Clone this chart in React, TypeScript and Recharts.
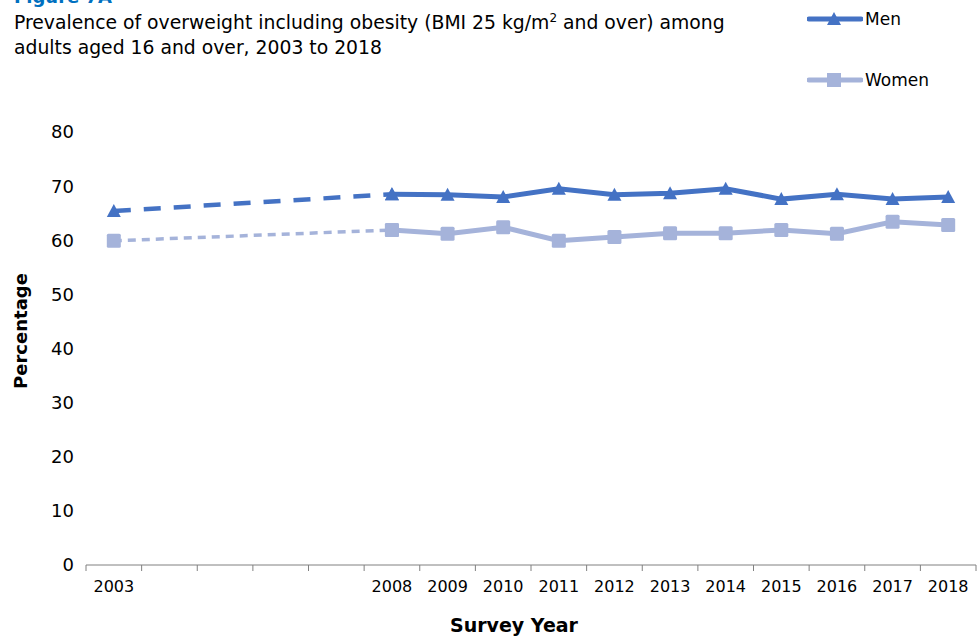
import { CartesianGrid, Line, LineChart, XAxis, YAxis } from "recharts"

const years = [
  "2003", "2004", "2005", "2006", "2007", "2008", "2009", "2010",
  "2011", "2012", "2013", "2014", "2015", "2016", "2017", "2018",
]
const shownYears = ["2003", "2008", "2009", "2010", "2011", "2012", "2013", "2014", "2015", "2016", "2017", "2018"]
const menValues = [65.4, null, null, null, null, 68.5, 68.4, 68.0, 69.5, 68.4, 68.7, 69.5, 67.6, 68.5, 67.6, 68.0]
const womenValues = [59.9, null, null, null, null, 61.9, 61.2, 62.4, 59.9, 60.6, 61.3, 61.3, 61.9, 61.2, 63.4, 62.8]
const yTicks = [0, 10, 20, 30, 40, 50, 60, 70, 80]

const GAP_END = 5 // first survey year after the gap

const data = years.map((year, i) => ({
  year,
  menEarly: i <= GAP_END ? menValues[i] : null,
  men: i >= GAP_END ? menValues[i] : null,
  womenEarly: i <= GAP_END ? womenValues[i] : null,
  women: i >= GAP_END ? womenValues[i] : null,
}))

const MEN = "#4472C4"
const WOMEN = "#A5B3DA"
const FONT = "Tahoma, 'DejaVu Sans', sans-serif"
const TICK_SIZE = 6
const TICK_MARGIN = 10

function Triangle(props: any) {
  const { cx, cy } = props
  if (cx == null || cy == null) return null
  return <polygon points={`${cx - 7},${cy + 6} ${cx + 7},${cy + 6} ${cx},${cy - 7}`} fill={MEN} />
}

function Square(props: any) {
  const { cx, cy } = props
  if (cx == null || cy == null) return null
  return <rect x={cx - 7} y={cy - 7} width={14} height={14} rx={1.5} fill={WOMEN} />
}

function YearTick(props: any) {
  const { x, y, payload, index } = props
  const half = 890 / years.length / 2
  const axisY = y - TICK_SIZE - TICK_MARGIN
  const label = shownYears.includes(payload.value) ? payload.value : ""
  return (
    <g>
      <line x1={x - half} x2={x - half} y1={axisY} y2={axisY + TICK_SIZE} stroke="#808080" />
      {index === years.length - 1 && (
        <line x1={x + half} x2={x + half} y1={axisY} y2={axisY + TICK_SIZE} stroke="#808080" />
      )}
      <text x={x} y={y} dy="0.71em" textAnchor="middle" fontSize={16} fill="#000">
        {label}
      </text>
    </g>
  )
}

function LegendItem({ top, label, color, marker }: { top: number; label: string; color: string; marker: "tri" | "sq" }) {
  return (
    <div style={{ position: "absolute", left: 807, top: top - 12, height: 24, display: "flex", alignItems: "center" }}>
      <svg width={56} height={24}>
        <line x1={2} x2={54} y1={12} y2={12} stroke={color} strokeWidth={5} strokeLinecap="round" />
        {marker === "tri" ? (
          <polygon points="20,18 34,18 27,5" fill={color} />
        ) : (
          <rect x={20} y={5} width={14} height={14} fill={color} />
        )}
      </svg>
      <span style={{ fontSize: 17, marginLeft: 2 }}>{label}</span>
    </div>
  )
}

export default function App() {
  return (
    <div style={{ position: "absolute", left: 0, top: 0, width: 979, height: 636, fontFamily: FONT, background: "#fff" }}>
      <div style={{ position: "absolute", left: 14, top: -14, fontSize: 18, fontWeight: "bold", color: "#0070C0" }}>
        Figure 7A
      </div>
      <div style={{ position: "absolute", left: 14, top: 10, fontSize: 18.8, lineHeight: "25px", width: 780 }}>
        Prevalence of overweight including obesity (BMI 25 kg/m<sup style={{ fontSize: 12, lineHeight: 0 }}>2</sup> and over) among
        <br />
        adults aged 16 and over, 2003 to 2018
      </div>
      <LegendItem top={19} label="Men" color={MEN} marker="tri" />
      <LegendItem top={80} label="Women" color={WOMEN} marker="sq" />
      <div style={{ position: "absolute", left: 0, top: 0 }}>
        <LineChart width={979} height={636} data={data} margin={{ top: 132, right: 3, bottom: 41, left: 0 }}>
          <CartesianGrid horizontal={false} vertical={false} />
          <XAxis
            dataKey="year"
            scale="band"
            stroke="#808080"
            tickLine={{ stroke: "none" }}
            tickSize={TICK_SIZE}
            tickMargin={TICK_MARGIN}
            interval={0}
            height={30}
            tick={<YearTick />}
            label={{
              content: () => (
                <text x={514} y={632} textAnchor="middle" fontSize={19} fontWeight="bold" fill="#000">
                  Survey Year
                </text>
              ),
            }}
          />
          <YAxis
            domain={[0, 80]}
            ticks={yTicks}
            width={86}
            axisLine={false}
            tickLine={false}
            tickMargin={6}
            tick={{ fontSize: 18, fill: "#000" }}
            label={{
              content: () => (
                <text
                  x={20}
                  y={331}
                  transform="rotate(-90 20 331)"
                  textAnchor="middle"
                  dominantBaseline="central"
                  fontSize={18}
                  fontWeight="bold"
                  fill="#000"
                >
                  Percentage
                </text>
              ),
            }}
          />
          <Line
            dataKey="menEarly"
            stroke={MEN}
            strokeWidth={4.5}
            strokeDasharray="17 13"
            connectNulls
            dot={<Triangle />}
            isAnimationActive={false}
          />
          <Line dataKey="men" stroke={MEN} strokeWidth={5} dot={<Triangle />} isAnimationActive={false} />
          <Line
            dataKey="womenEarly"
            stroke={WOMEN}
            strokeWidth={3.5}
            strokeDasharray="8 6"
            connectNulls
            dot={<Square />}
            isAnimationActive={false}
          />
          <Line dataKey="women" stroke={WOMEN} strokeWidth={5} dot={<Square />} isAnimationActive={false} />
        </LineChart>
      </div>
    </div>
  )
}
